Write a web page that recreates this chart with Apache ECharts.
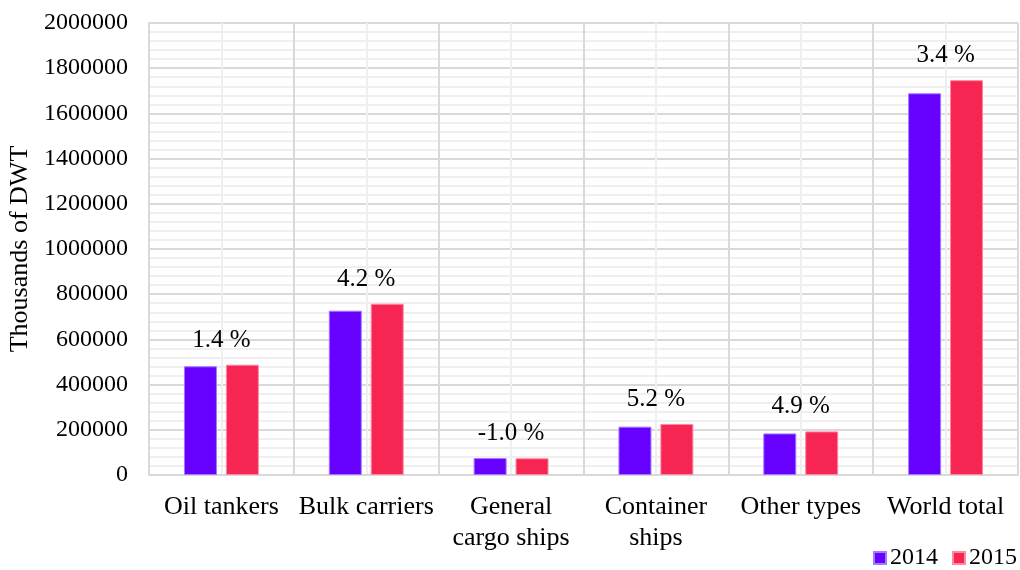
<!DOCTYPE html>
<html>
<head>
<meta charset="utf-8">
<script src="https://cdn.jsdelivr.net/npm/echarts@6/dist/echarts.min.js"></script>
<style>
  html, body { margin: 0; padding: 0; background: #ffffff; }
  #chart { width: 1020px; height: 570px; }
</style>
</head>
<body>
<div id="chart"></div>
<script>
// Fleet by ship type, thousands of DWT
const categories = ['Oil tankers', 'Bulk carriers', 'General\ncargo ships', 'Container\nships', 'Other types', 'World total'];
const values2014 = [481000, 727000, 75000, 214000, 184000, 1689000];
const values2015 = [488000, 758000, 74000, 226000, 193000, 1747000];
const changeLabels = ['1.4 %', '4.2 %', '-1.0 %', '5.2 %', '4.9 %', '3.4 %'];
const seriesNames = ['2014', '2015'];

const FONT = '"Liberation Serif", "Times New Roman", serif';
const MAJOR = '#d9d9d9';
const MINOR = '#efefef';

// change labels sit above the taller bar of each pair, centred on the group
const groupTops = categories.map((c, i) => Math.max(values2014[i], values2015[i]));
const changeMarks = groupTops.map((v, i) => ({ coord: [i, v], value: changeLabels[i] }));

const chart = echarts.init(document.getElementById('chart'));
chart.setOption({
  animation: false,
  backgroundColor: '#ffffff',
  grid: { left: 149, right: 2, top: 23, bottom: 95, outerBoundsMode: 'none' },
  legend: {
    data: seriesNames,
    right: 3,
    bottom: 0,
    padding: 0,
    icon: 'rect',
    itemWidth: 12,
    itemHeight: 12,
    itemGap: 14,
    textStyle: { fontFamily: FONT, fontSize: 24, color: '#000', padding: [0, 0, 0, -1] }
  },
  xAxis: [
    {
      type: 'category',
      data: categories,
      axisLine: { show: true, lineStyle: { color: MAJOR, width: 2 } },
      axisTick: { show: false },
      axisLabel: { fontFamily: FONT, fontSize: 26, color: '#000', margin: 17, lineHeight: 31, interval: 0 },
      splitLine: { show: false }
    },
    {
      // vertical grid: group boundaries and group centres
      type: 'value',
      min: 0,
      max: 6,
      interval: 0.5,
      position: 'bottom',
      axisLine: { show: false },
      axisTick: { show: false },
      axisLabel: { show: false },
      splitLine: { show: true, lineStyle: { color: [MAJOR, MINOR], width: 2 } }
    }
  ],
  yAxis: {
    type: 'value',
    min: 0,
    max: 2000000,
    interval: 200000,
    name: 'Thousands of DWT',
    nameLocation: 'middle',
    nameGap: 104,
    nameTextStyle: { fontFamily: FONT, fontSize: 26, color: '#000' },
    axisLine: { show: true, lineStyle: { color: MAJOR, width: 2 } },
    axisTick: { show: false },
    axisLabel: { fontFamily: FONT, fontSize: 24, color: '#000', margin: 21, formatter: v => String(v) },
    splitLine: { show: true, lineStyle: { color: MAJOR, width: 2 } },
    minorTick: { show: false, splitNumber: 5 },
    minorSplitLine: { show: true, lineStyle: { color: MINOR, width: 2 } }
  },
  series: [
    {
      name: seriesNames[0],
      type: 'bar',
      xAxisIndex: 0,
      data: values2014,
      barWidth: 33,
      barGap: '27%',
      itemStyle: { color: '#6600ff', borderColor: '#a07cff', borderWidth: 1 }
    },
    {
      name: seriesNames[1],
      type: 'bar',
      xAxisIndex: 0,
      data: values2015,
      barWidth: 33,
      itemStyle: { color: '#f72552', borderColor: '#fb8aa3', borderWidth: 1 }
    },
    {
      // invisible carrier for the year-on-year change labels
      name: 'change',
      type: 'line',
      xAxisIndex: 0,
      data: groupTops,
      symbol: 'none',
      silent: true,
      lineStyle: { width: 0, opacity: 0 },
      markPoint: {
        symbol: 'circle',
        symbolSize: 0,
        silent: true,
        itemStyle: { color: 'transparent' },
        label: {
          show: true,
          position: 'top',
          distance: 12,
          fontFamily: FONT,
          fontSize: 25,
          color: '#000',
          formatter: p => p.value
        },
        data: changeMarks
      }
    }
  ]
});
</script>
</body>
</html>
